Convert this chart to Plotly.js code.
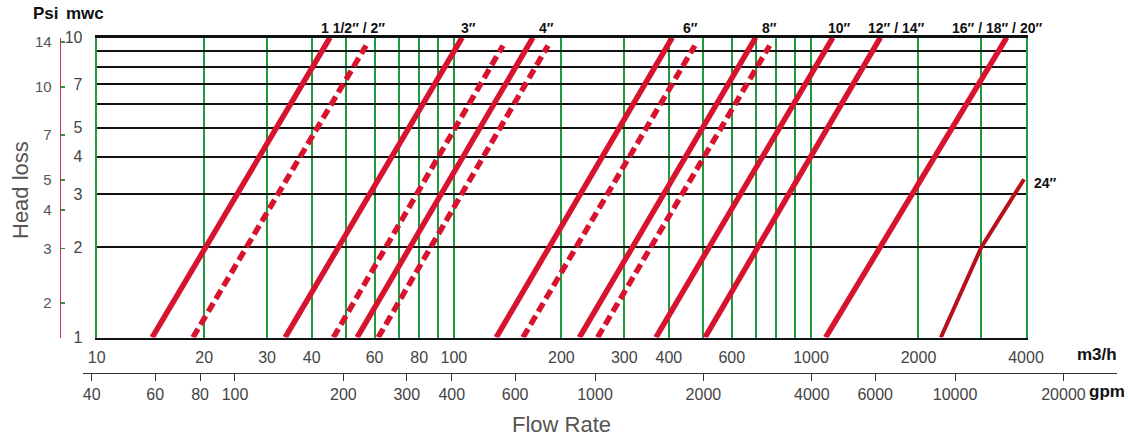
<!DOCTYPE html>
<html>
<head>
<meta charset="utf-8">
<script src="https://cdn.plot.ly/plotly-3.0.1.min.js"></script>
<style>html,body{margin:0;padding:0;background:#fff;}#chart{width:1128px;height:441px;}</style>
</head>
<body>
<div id="chart"></div>
<script>
// ---- data (flow in m3/h, head loss in mwc) ----
const headSolid = [1, 10];
const headDashed = [1, 9.4];
const flowSolid15 = [14.3, 45.0];
const flowDashed15 = [18.6, 56.8];
const flowSolid3 = [33.7, 105.5];
const flowDashed3 = [46.0, 137.3];
const flowSolid4 = [53.6, 166.5];
const flowDashed4 = [61.4, 183.5];
const flowSolid6 = [131.4, 408.8];
const flowDashed6 = [156.2, 473];
const flowSolid8 = [224.7, 700];
const flowDashed8 = [252.6, 766];
const flowSolid10 = [368, 1151];
const flowSolid12 = [505, 1564];
const flowSolid16 = [1099, 3532];
const flow24 = [2310, 3000, 3950];
const head24 = [1, 2, 3.37];

const sizeLabels = ['1 1/2″ / 2″', '3″', '4″', '6″', '8″', '10″', '12″ / 14″', '16″ / 18″ / 20″', '24″'];

const gridFlow = [10,20,30,40,50,60,70,80,90,100,200,300,400,500,600,700,800,900,1000,2000,3000,4000];
const labelFlow = [10,20,30,40,60,80,100,200,300,400,600,1000,2000,4000];
const gridHead = [1,2,3,4,5,6,7,8,9,10];
const labelHead = [1,2,3,4,5,7,10];
const tickPsi = [2,3,4,5,7,10,14];
const tickGpm = [40,60,80,100,200,300,400,600,1000,2000,4000,6000,10000,20000];

// ---- styles ----
const RED = '#d8132f';
const RED24 = '#b8101c';
const GREEN = '#1f9a3c';
const TICKFONT = {family: 'Liberation Sans, Arial, sans-serif', size: 16, color: '#444'};
const BOLDFONT = {family: 'Liberation Sans, Arial, sans-serif', size: 14, color: '#111', weight: 'bold'};

function solid(x, y) {
  return {x: x, y: y, type: 'scatter', mode: 'lines', line: {color: RED, width: 5.5}, hoverinfo: 'skip'};
}
function dashed(x, y) {
  return {x: x, y: y, type: 'scatter', mode: 'lines', line: {color: RED, width: 5.5, dash: '10px,5px'}, hoverinfo: 'skip'};
}

const traces = [
  solid(flowSolid15, headSolid), dashed(flowDashed15, headDashed),
  solid(flowSolid3, headSolid), dashed(flowDashed3, headDashed),
  solid(flowSolid4, headSolid), dashed(flowDashed4, headDashed),
  solid(flowSolid6, headSolid), dashed(flowDashed6, headDashed),
  solid(flowSolid8, headSolid), dashed(flowDashed8, headDashed),
  solid(flowSolid10, headSolid),
  solid(flowSolid12, headSolid),
  solid(flowSolid16, headSolid),
  {x: flow24, y: head24, type: 'scatter', mode: 'lines', line: {color: RED24, width: 4}, hoverinfo: 'skip'},
  // carriers for the psi and gpm axes
  {x: [], y: [], type: 'scatter', mode: 'lines', xaxis: 'x', yaxis: 'y2', hoverinfo: 'skip'},
  {x: [], y: [], type: 'scatter', mode: 'lines', xaxis: 'x2', yaxis: 'y3', hoverinfo: 'skip'}
];

// layout geometry (paper: x 40..1118, y 37..400)
const L = 40, R = 10, T = 37, B = 41;
const PW = 1128 - L - R, PH = 441 - T - B;
const px = v => (v - L) / PW;
const py = v => (441 - B - v) / PH;

const labelPos = [[352.7, 28], [468.3, 28], [546.7, 28], [690, 28], [769.3, 28], [839.3, 28], [896.7, 28], [996.7, 28], [1045, 183.3]];
const annotations = sizeLabels.map((t, i) => ({
  text: t, xref: 'paper', yref: 'paper', x: px(labelPos[i][0]), y: py(labelPos[i][1]),
  xanchor: 'center', yanchor: 'middle', showarrow: false, font: BOLDFONT
}));
annotations.push(
  {text: 'Psi', xref: 'paper', yref: 'paper', x: px(45.5), y: py(14), showarrow: false, xanchor: 'center', yanchor: 'middle', font: Object.assign({}, BOLDFONT, {size: 17})},
  {text: 'mwc', xref: 'paper', yref: 'paper', x: px(84.5), y: py(14), showarrow: false, xanchor: 'center', yanchor: 'middle', font: Object.assign({}, BOLDFONT, {size: 17})},
  {text: 'm3/h', xref: 'paper', yref: 'paper', x: px(1097), y: py(354), showarrow: false, xanchor: 'center', yanchor: 'middle', font: Object.assign({}, BOLDFONT, {size: 17})},
  {text: 'gpm', xref: 'paper', yref: 'paper', x: px(1107), y: py(391.7), showarrow: false, xanchor: 'center', yanchor: 'middle', font: Object.assign({}, BOLDFONT, {size: 17})},
  {text: 'Head loss', xref: 'paper', yref: 'paper', x: px(20), y: py(190), textangle: -90, showarrow: false, xanchor: 'center', yanchor: 'middle', font: {family: 'Liberation Sans, Arial, sans-serif', size: 22, color: '#555'}},
  {text: 'Flow Rate', xref: 'paper', yref: 'paper', x: px(561.7), y: py(424), showarrow: false, xanchor: 'center', yanchor: 'middle', font: {family: 'Liberation Sans, Arial, sans-serif', size: 22, color: '#555'}}
);

const layout = {
  width: 1128, height: 441, autosize: false,
  margin: {l: L, r: R, t: T, b: B, pad: 0},
  paper_bgcolor: '#fff', plot_bgcolor: '#fff',
  showlegend: false,
  xaxis: {
    type: 'log', range: [Math.log10(10), Math.log10(4000)], domain: [px(96.7), px(1026)], anchor: 'y',
    tickvals: gridFlow, ticktext: gridFlow.map(v => labelFlow.includes(v) ? String(v) : ''),
    showgrid: true, gridcolor: GREEN, gridwidth: 2, zeroline: false,
    showline: true, linecolor: '#111', linewidth: 2.5, mirror: true,
    ticks: '', tickfont: TICKFONT, ticklabelstandoff: 4, fixedrange: true, automargin: false
  },
  yaxis: {
    type: 'log', range: [0, 1], domain: [py(337.5), py(37.5)], anchor: 'x',
    tickvals: gridHead, ticktext: gridHead.map(v => labelHead.includes(v) ? String(v) : ''),
    showgrid: true, gridcolor: '#111', gridwidth: 2, zeroline: false,
    showline: true, linecolor: GREEN, linewidth: 2, mirror: true,
    ticks: '', tickfont: TICKFONT, ticklabelstandoff: 9, fixedrange: true, automargin: false
  },
  yaxis2: {
    type: 'log', overlaying: 'y', anchor: 'free', position: px(59.7), side: 'left',
    range: [0.1896, 1.1607],
    tickvals: tickPsi, ticktext: tickPsi.map(String),
    showgrid: false, zeroline: false, showline: true, linecolor: '#cc3355', linewidth: 1.5,
    ticks: 'inside', ticklen: 4, tickwidth: 1.5, tickcolor: GREEN,
    tickfont: {family: 'Liberation Sans, Arial, sans-serif', size: 15, color: '#555'},
    ticklabelstandoff: 5, fixedrange: true, automargin: false
  },
  xaxis2: {
    type: 'log', anchor: 'free', position: py(372.7), domain: [px(82.7), px(1116.7)],
    range: [1.577, 4.449],
    tickvals: tickGpm, ticktext: tickGpm.map(String),
    showgrid: false, zeroline: false, showline: true, linecolor: '#333', linewidth: 1,
    ticks: 'outside', ticklen: 7, tickwidth: 1, tickcolor: '#333',
    tickfont: TICKFONT, fixedrange: true, automargin: false
  },
  yaxis3: {domain: [0, 0.02], anchor: 'x2', visible: false, fixedrange: true},
  annotations: annotations
};

Plotly.newPlot('chart', traces, layout, {displayModeBar: false, staticPlot: true});
</script>
</body>
</html>
